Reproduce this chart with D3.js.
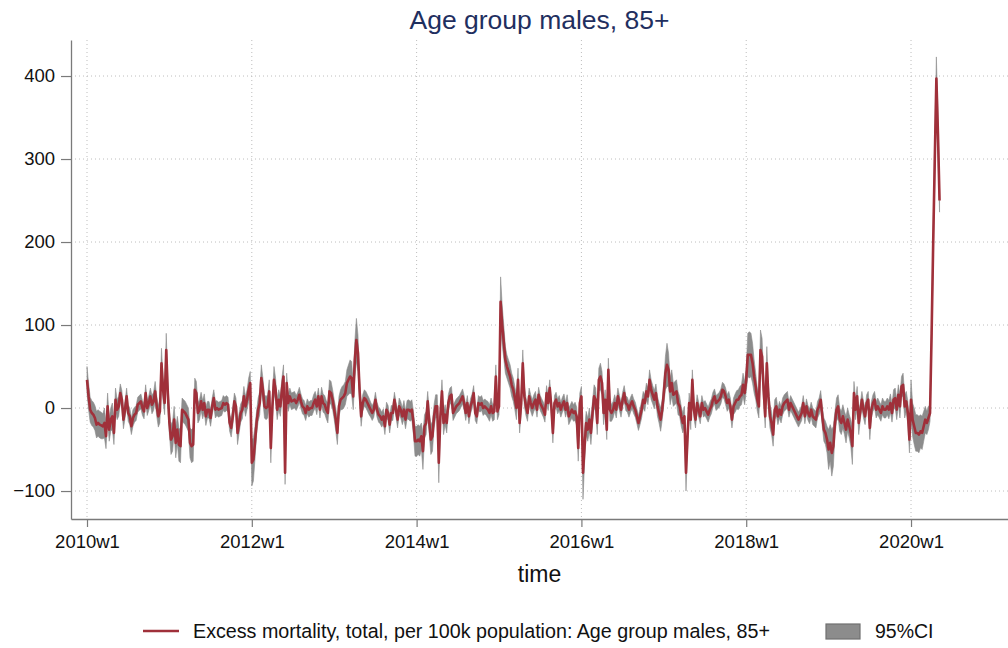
<!DOCTYPE html>
<html><head><meta charset="utf-8">
<script src="https://cdn.jsdelivr.net/npm/d3@7"></script>
<style>
body{margin:0;background:#fff}
svg{display:block}
text{font-family:"Liberation Sans",Arial,Helvetica,sans-serif}
</style>
</head><body>
<svg id="chart" width="1008" height="648"></svg>
<script>
// Weekly excess mortality per 100k, males 85+ (Stata weeks: 52 per year)
const exc2010 = [34,14,-2,-6,-8,-12,-20,-18,-20,-21,-22,-18,-34,2,-26,-14,-10,-30,10,-2,2,18,10,-14,-2,14,-6,-10,-22,-12,-8,-6,4,6,8,0,-4,18,0,6,14,4,8,20,2,-10,-4,54,22,6,70,18];
const exc2011 = [-18,-38,-34,-14,-42,-26,-44,-46,-2,-4,-6,-10,-14,-42,-46,-44,22,18,-6,-2,8,-2,6,-10,-2,-2,-12,2,12,-2,0,-2,-1,0,6,4,6,4,-18,-24,-10,8,2,-30,-18,-6,-2,14,2,10,22,30];
const exc2012 = [-66,-62,-42,-18,-2,6,36,22,2,0,2,20,-48,2,34,22,-2,10,2,22,38,-78,30,6,14,8,9,10,6,10,16,8,2,0,-6,2,-2,0,0,6,10,2,14,-2,14,6,4,-2,-6,20,18,10];
const exc2013 = [-2,-14,-30,2,10,12,14,18,30,34,38,36,14,58,82,66,22,-10,6,12,10,6,2,-2,-6,-2,10,-2,-8,-10,-14,-10,-22,-2,-6,-20,-6,-6,10,-2,-14,2,-2,-10,-2,-14,-2,-2,-4,-2,-18,-40];
const exc2014 = [-40,-38,-40,-34,-52,-22,-18,8,-18,-38,-34,-10,2,2,-66,-10,20,-18,-8,-18,6,14,16,-6,-2,2,4,6,10,14,6,-6,6,-10,2,8,18,-6,-10,6,4,6,0,2,0,-2,-6,2,-6,-4,38,-4];
const exc2015 = [2,128,100,80,58,50,44,38,28,22,12,0,34,-18,6,54,14,2,-6,14,6,0,6,10,-2,16,6,2,-2,-8,18,6,24,2,-30,6,10,2,6,-2,4,8,-2,6,-10,-6,-2,-6,-4,-10,-48,6];
const exc2016 = [14,-78,-46,-18,-26,-14,-30,-6,14,10,-18,34,38,30,-6,10,-26,46,-2,-6,-2,6,-2,14,6,-2,10,18,6,4,-2,4,8,2,-2,-10,-18,-10,-2,10,6,20,14,34,22,16,10,18,2,-6,-14,-2];
const exc2017 = [18,42,52,46,20,30,16,18,20,6,2,-10,-18,-10,-78,-34,6,-14,34,-2,-14,6,-2,-10,6,-2,0,-4,-8,-2,2,10,14,6,8,10,14,22,20,14,6,10,2,-14,2,6,10,10,14,16,28,18];
const exc2018 = [34,64,64,64,54,38,26,10,2,70,62,22,-10,54,14,-10,-18,-32,-2,2,-10,-2,-8,2,6,8,10,-2,6,2,-2,-6,-10,-14,-10,-6,6,-10,2,-6,-10,-2,-10,-12,-14,-2,2,10,-10,-26,-30,-38];
const exc2019 = [-50,-42,-54,-46,-18,-2,2,-14,-18,-10,-18,-26,-14,-22,-30,-46,18,-2,14,-18,-4,10,-2,-10,6,10,-24,-2,6,10,-2,2,-2,-6,2,-2,-2,2,-2,6,-6,10,12,-2,16,2,26,28,2,8,-6,-38];
const exc2020 = [10,-14,-22,-30,-30,-32,-28,-30,-22,-14,-18,-12,-6,90,200,300,397,330,250];

// Half-width of the 95% confidence interval for each week
const ci2010 = [16,16,15,15,15,15,16,16,16,16,15,18,15,16,14,14,16,14,14,12,12,11,11,11,10,10,10,10,10,10,9,9,9,9,9,9,9,10,9,9,10,11,11,12,12,13,14,18,14,14,20,14];
const ci2011 = [14,18,18,16,18,16,20,20,14,14,14,14,14,18,20,20,14,14,12,12,11,11,11,11,10,10,10,10,10,10,9,9,9,9,9,9,9,9,10,11,11,10,10,14,12,11,11,12,12,12,14,14];
const ci2012 = [28,26,20,14,14,14,16,14,14,14,14,14,18,14,16,14,12,12,12,14,14,14,12,10,10,10,10,10,9,9,9,9,9,9,9,9,9,9,9,10,10,10,10,10,11,11,11,11,12,14,14,12];
const ci2013 = [12,14,14,12,12,14,14,14,16,18,20,20,16,22,26,22,14,12,10,10,10,10,10,9,9,9,9,9,9,9,9,9,10,9,9,10,9,9,9,9,10,10,10,10,11,11,11,12,12,12,14,18];
const ci2014 = [18,18,18,16,22,14,14,12,14,18,18,14,14,14,24,14,14,14,12,12,10,10,10,9,9,9,9,9,9,9,9,9,9,9,9,9,9,9,9,9,9,9,9,9,9,10,10,10,10,10,14,10];
const ci2015 = [10,30,24,20,16,14,14,14,14,14,14,14,14,12,12,16,12,11,10,10,10,10,10,10,9,9,9,9,9,9,9,9,10,9,12,9,9,9,9,9,9,9,9,10,10,10,10,10,11,11,16,12];
const ci2016 = [12,32,20,14,14,14,14,14,14,14,14,14,16,14,14,12,12,14,14,10,10,10,10,10,9,9,9,9,9,9,9,9,9,9,9,9,9,10,10,10,10,10,10,12,12,11,11,11,12,12,14,12];
const ci2017 = [14,20,26,20,16,16,14,14,14,14,12,12,12,12,22,14,12,12,12,10,10,10,9,9,9,9,9,9,9,9,9,9,9,9,9,9,9,9,9,10,10,10,10,10,10,11,11,12,12,12,14,14];
const ci2018 = [14,26,28,26,24,20,16,14,14,24,22,16,14,20,14,14,14,14,12,11,10,10,10,10,10,10,10,9,9,9,9,9,9,9,9,9,9,9,9,9,9,9,10,10,10,10,10,11,12,14,14,16];
const ci2019 = [24,22,28,24,14,14,14,14,14,14,14,16,14,14,16,22,14,12,12,14,10,10,10,10,10,10,14,10,10,10,10,10,10,10,10,10,10,10,11,11,11,12,12,12,12,14,12,14,14,12,14,16];
const ci2020 = [24,20,22,22,22,22,20,20,18,16,14,14,10,14,20,24,26,24,14];

const xTickLabels = ["2010w1","2012w1","2014w1","2016w1","2018w1","2020w1"];
const yTickValues = [-100,0,100,200,300,400];
const titleText = "Age group males, 85+";
const xTitle = "time";
const seriesLabel = "Excess mortality, total, per 100k population: Age group males, 85+";
const ciLabel = "95%CI";

const excess = [].concat(exc2010,exc2011,exc2012,exc2013,exc2014,exc2015,exc2016,exc2017,exc2018,exc2019,exc2020);
const half = [].concat(ci2010,ci2011,ci2012,ci2013,ci2014,ci2015,ci2016,ci2017,ci2018,ci2019,ci2020);
const data = excess.map((v,i)=>({t:i, v:v, lo:v-half[i], hi:v+half[i]}));
const weekIndex = lab => { const m = lab.match(/(\d+)w(\d+)/); return (+m[1]-2010)*52 + (+m[2]-1); };
const xTicks = xTickLabels.map(weekIndex);

const RED = "#a0303a", BAND = "#8c8c8c", AXIS = "#7a7a7a", GRID = "#bdbdbd";
const L = 71, R = 1008, T = 40, B = 519;

const svg = d3.select("#chart");
svg.append("rect").attr("width",1008).attr("height",648).attr("fill","#fff");

const x = d3.scaleLinear().domain([-10.1, 581.2]).range([L, R]);
const y = d3.scaleLinear().domain([-133.7, 443.4]).range([B, T]);

// grid
const grid = svg.append("g");
grid.selectAll("line.h").data(yTickValues).join("line")
  .attr("x1",L).attr("x2",R).attr("y1",d=>y(d)).attr("y2",d=>y(d))
  .attr("stroke",GRID).attr("stroke-width",1).attr("stroke-dasharray","1,3");
grid.selectAll("line.v").data(xTicks).join("line")
  .attr("x1",d=>x(d)).attr("x2",d=>x(d)).attr("y1",T).attr("y2",B)
  .attr("stroke",GRID).attr("stroke-width",1).attr("stroke-dasharray","1,3");

// CI band
svg.append("path").datum(data)
  .attr("d", d3.area().x(d=>x(d.t)).y0(d=>y(d.lo)).y1(d=>y(d.hi)))
  .attr("fill",BAND).attr("stroke",BAND).attr("stroke-width",0.6);

// line
svg.append("path").datum(data)
  .attr("d", d3.line().x(d=>x(d.t)).y(d=>y(d.v)))
  .attr("fill","none").attr("stroke",RED).attr("stroke-width",2.6).attr("stroke-linejoin","round");

// axes
const ax = svg.append("g").attr("transform",`translate(0,${B})`)
  .call(d3.axisBottom(x).tickValues(xTicks).tickFormat((d,i)=>xTickLabels[i]).tickSize(8).tickSizeOuter(0).tickPadding(8));
const ay = svg.append("g").attr("transform",`translate(${L},0)`)
  .call(d3.axisLeft(y).tickValues(yTickValues).tickFormat(d3.format("d")).tickSize(10).tickSizeOuter(0).tickPadding(6));
[ax,ay].forEach(g=>{
  g.selectAll("path.domain").attr("stroke",AXIS).attr("stroke-width",1.3);
  g.selectAll(".tick line").attr("stroke",AXIS).attr("stroke-width",1.2);
  g.selectAll(".tick text").attr("fill","#111").style("font-size","18.5px")
    .style("font-family",'"Liberation Sans",Arial,sans-serif');
});

// titles
svg.append("text").attr("x",(L+R)/2).attr("y",29).attr("text-anchor","middle")
  .attr("fill","#1f2f5f").style("font-size","26.5px").text(titleText);
svg.append("text").attr("x",(L+R)/2).attr("y",582).attr("text-anchor","middle")
  .attr("fill","#111").style("font-size","23px").text(xTitle);

// legend
const lg = svg.append("g");
lg.append("line").attr("x1",143).attr("x2",179).attr("y1",631).attr("y2",631)
  .attr("stroke",RED).attr("stroke-width",2.4);
lg.append("text").attr("x",193).attr("y",638).attr("fill","#111").style("font-size","19.7px").text(seriesLabel);
lg.append("rect").attr("x",826).attr("y",624).attr("width",34).attr("height",15)
  .attr("fill",BAND).attr("stroke","#707070").attr("stroke-width",1.2);
lg.append("text").attr("x",875).attr("y",638).attr("fill","#111").style("font-size","19.5px").text(ciLabel);
</script>
</body></html>
